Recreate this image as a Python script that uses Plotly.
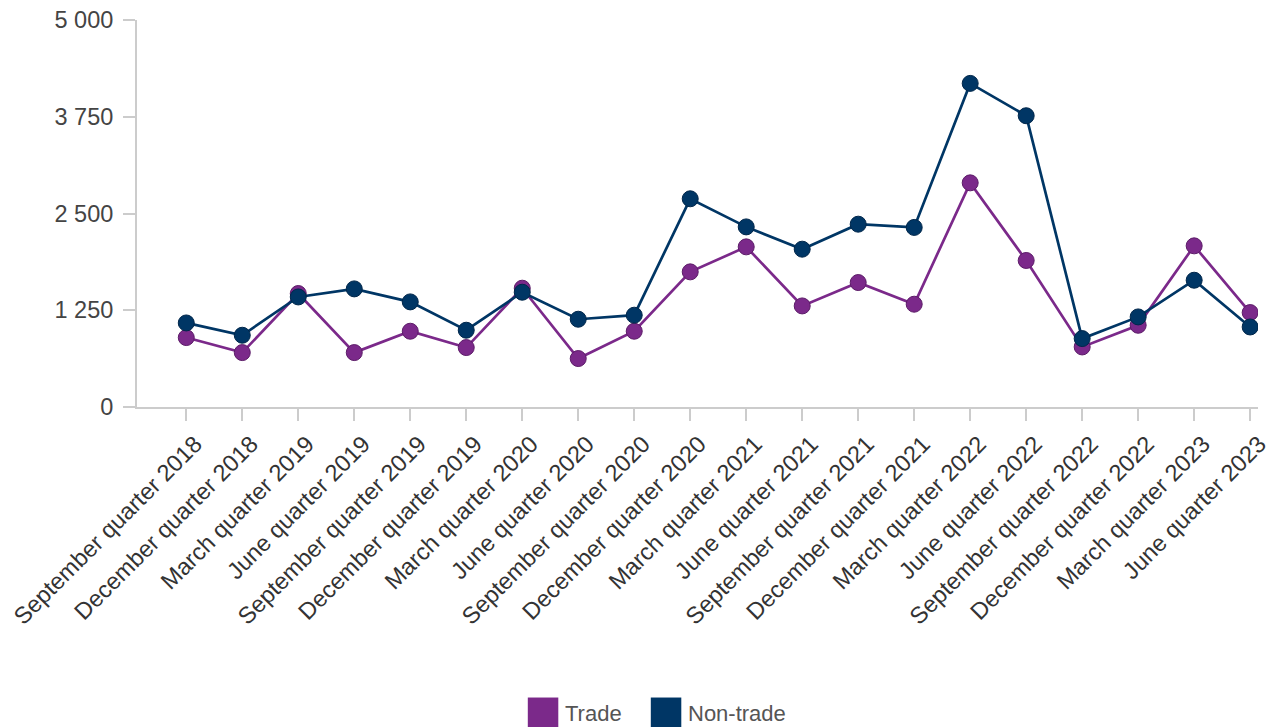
import plotly.graph_objects as go

categories = [
    "September quarter 2018", "December quarter 2018", "March quarter 2019", "June quarter 2019",
    "September quarter 2019", "December quarter 2019", "March quarter 2020", "June quarter 2020",
    "September quarter 2020", "December quarter 2020", "March quarter 2021", "June quarter 2021",
    "September quarter 2021", "December quarter 2021", "March quarter 2022", "June quarter 2022",
    "September quarter 2022", "December quarter 2022", "March quarter 2023", "June quarter 2023",
]
trade = [897, 703, 1466, 703, 979, 768, 1535, 626, 979, 1746,
         2069, 1306, 1608, 1328, 2896, 1893, 776, 1056, 2082, 1220]
non_trade = [1086, 927, 1422, 1526, 1358, 992, 1483, 1134, 1186, 2690,
             2327, 2039, 2362, 2320, 4181, 3763, 884, 1164, 1638, 1034]
series_names = ["Trade", "Non-trade"]
y_ticks = [0, 1250, 2500, 3750, 5000]

PURPLE = "rgb(123,41,138)"
PURPLE_EDGE = "rgb(92,28,104)"
NAVY = "rgb(0,54,101)"
NAVY_EDGE = "rgb(0,38,74)"
FONT = "Liberation Sans, Arial, sans-serif"

FIG_W, FIG_H = 1270, 727
PLOT_L, PLOT_T = 136.7, 20
PLOT_W, PLOT_H = 1121.0, 386.7

fig = go.Figure()
fig.add_trace(go.Scatter(
    x=categories, y=trade, name=series_names[0], mode="lines+markers",
    line=dict(color=PURPLE, width=2.7),
    marker=dict(color=PURPLE, size=16, line=dict(color=PURPLE_EDGE, width=1)),
    showlegend=False,
))
fig.add_trace(go.Scatter(
    x=categories, y=non_trade, name=series_names[1], mode="lines+markers",
    line=dict(color=NAVY, width=2.7),
    marker=dict(color=NAVY, size=16, line=dict(color=NAVY_EDGE, width=1)),
    showlegend=False,
))

# manual legend (large square swatches); pixels -> paper coords
def px_x(px):
    return (px - PLOT_L) / PLOT_W

def px_y(py):
    return (PLOT_T + PLOT_H - py) / PLOT_H

legend_items = [(series_names[0], PURPLE, 527.5), (series_names[1], NAVY, 650.5)]
for name, col, sx in legend_items:
    fig.add_shape(type="rect", xref="paper", yref="paper",
                  x0=px_x(sx), x1=px_x(sx + 30.5), y0=px_y(727), y1=px_y(697),
                  fillcolor=col, line=dict(width=0))
    fig.add_annotation(xref="paper", yref="paper", x=px_x(sx + 37), y=px_y(713),
                       text=name, showarrow=False, xanchor="left", yanchor="middle",
                       xshift=-2,
                       font=dict(family=FONT, size=22, color="#555555"))

fig.update_layout(
    width=FIG_W, height=FIG_H,
    margin=dict(l=PLOT_L, r=FIG_W - PLOT_L - PLOT_W, t=PLOT_T,
                b=FIG_H - PLOT_T - PLOT_H, autoexpand=False),
    paper_bgcolor="white", plot_bgcolor="white",
    separators=". ",
    font=dict(family=FONT, color="#333333"),
    xaxis=dict(
        type="category", range=[-0.88, 19.14], automargin=False,
        showgrid=False, zeroline=False,
        showline=True, linecolor="#cccccc", linewidth=2,
        ticks="outside", ticklen=12, tickcolor="#cccccc", tickwidth=2,
        tickangle=-45, ticklabelshift=9,
        tickfont=dict(family=FONT, size=23.5, color="#333333"),
    ),
    yaxis=dict(
        range=[0, 5000], tickvals=y_ticks, tickformat=",d", automargin=False,
        showgrid=False, zeroline=False,
        showline=True, linecolor="#cccccc", linewidth=2,
        ticks="outside", ticklen=12, tickcolor="#cccccc", tickwidth=2,
        ticklabelstandoff=5,
        tickfont=dict(family=FONT, size=23.5, color="#444444"),
    ),
)

fig.write_html(
    "out.html",
    config={"displayModeBar": False},
    post_script="document.body.style.margin='0';document.body.style.overflow='hidden';",
)
